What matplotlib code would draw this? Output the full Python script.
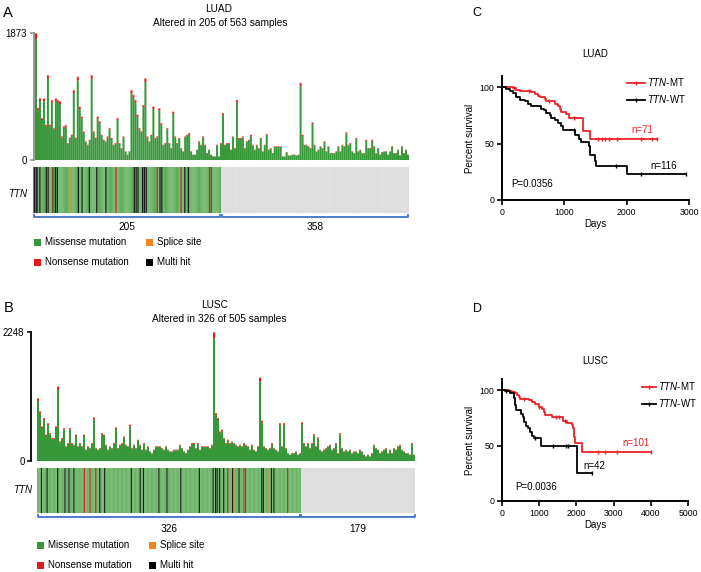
import matplotlib
matplotlib.use("Agg")
import matplotlib.pyplot as plt
from matplotlib.patches import Rectangle
from matplotlib.lines import Line2D
import numpy as np

plt.rcParams['font.family'] = ['Liberation Sans', 'DejaVu Sans']
plt.rcParams['mathtext.fontset'] = 'custom'
plt.rcParams['mathtext.it'] = 'Liberation Sans:italic'
plt.rcParams['mathtext.rm'] = 'Liberation Sans'

## mutation counts per sample group
luad_counts = [1873, 770, 915, 620, 912, 520, 1257, 520, 887, 470, 912, 887, 866, 350, 500, 517,
               250, 330, 374, 1035, 330, 1232, 789, 641, 420, 276, 226, 300, 1257, 423, 330, 641,
               571, 374, 300, 276, 349, 472, 325, 226, 250, 620, 251, 177, 349, 128, 80, 128,
               1035, 964, 887, 669, 472, 423, 813, 1208, 349, 276, 374, 789, 325, 350, 768, 546,
               226, 250, 472, 251, 177, 715, 349, 251, 325, 177, 128, 349, 374, 399, 128, 79,
               79, 153, 276, 226, 349, 226, 103, 153, 79, 54, 54, 226, 54, 251, 694, 226,
               251, 251, 153, 349, 177, 890, 325, 325, 349, 177, 276, 300, 374, 226, 153, 226,
               177, 325, 128, 226, 384, 153, 177, 103, 202, 202, 202, 202, 54, 54, 118, 69,
               69, 79, 79, 69, 79, 1140, 374, 226, 226, 202, 177, 556, 226, 128, 153, 202,
               177, 276, 128, 202, 103, 103, 103, 128, 202, 128, 226, 202, 410, 226, 251, 128,
               103, 325, 128, 153, 103, 103, 300, 177, 177, 300, 202, 103, 177, 79, 118, 128,
               128, 79, 128, 202, 103, 103, 153, 69, 202, 103, 153, 79]
lusc_counts = [1098, 866, 604, 750, 459, 662, 488, 401, 401, 604, 1301, 343, 401, 575, 256, 314,
               575, 314, 285, 459, 256, 314, 256, 459, 198, 256, 227, 314, 761, 227, 198, 227,
               488, 459, 285, 198, 256, 227, 314, 587, 227, 285, 314, 430, 285, 256, 633, 227,
               285, 227, 372, 285, 198, 314, 198, 256, 168, 139, 198, 256, 256, 256, 227, 198,
               256, 198, 168, 168, 198, 198, 198, 285, 227, 168, 139, 198, 256, 314, 314, 227,
               314, 198, 256, 256, 256, 256, 227, 285, 2248, 837, 750, 517, 546, 401, 314, 372,
               314, 343, 314, 285, 256, 285, 256, 314, 285, 256, 198, 285, 198, 168, 256, 1458,
               703, 256, 227, 198, 227, 314, 227, 198, 168, 662, 256, 662, 227, 139, 110, 139,
               139, 168, 110, 139, 674, 314, 256, 314, 227, 314, 471, 256, 412, 198, 168, 198,
               227, 256, 285, 198, 227, 314, 139, 488, 227, 168, 198, 168, 198, 139, 168, 168,
               139, 198, 168, 110, 81, 110, 81, 139, 285, 227, 198, 139, 168, 198, 227, 139,
               198, 139, 227, 198, 256, 285, 198, 168, 139, 139, 110, 314, 110]
luad_max = 1873
lusc_max = 2248
nonsense_share = 0.04
splice_share = 0.008

## oncoprint (TTN)
luad_altered, luad_unaltered = 205, 358
lusc_altered, lusc_unaltered = 326, 179
luad_multi = [1, 3, 4, 7, 14, 16, 21, 24, 26, 49, 53, 61, 69, 79, 110, 112, 114, 119, 121, 123,
              138, 140, 165, 169]
luad_nonsense = [90, 135, 161, 192, 194]
luad_splice = [20, 41]
lusc_multi = [5, 12, 25, 34, 39, 45, 77, 83, 116, 127, 131, 150, 160, 177, 200, 217, 220, 222,
              225, 230, 241, 249, 277, 279, 289, 292]
lusc_nonsense = [58, 65, 72, 235, 255, 257, 309]
lusc_splice = [244, 286]

## Kaplan-Meier curves (days, percent survival)
luad_mt_t = [0, 176, 230, 283, 470, 524, 578, 615, 685, 711, 845, 898, 925, 952, 1032, 1075,
             1300, 1406, 2490]
luad_mt_s = [100, 99, 98, 97, 95.6, 94, 92.6, 91, 89.7, 88.2, 85.3, 83.8, 81, 78, 76.5, 73,
             61, 54.4, 54.4]
luad_mt_cens = [190, 430, 760, 1150, 1540, 1600, 1650, 1720, 1850, 2230, 2400, 2490]
luad_wt_t = [0, 70, 123, 176, 230, 283, 364, 417, 470, 631, 668, 711, 765, 791, 845, 898, 952,
             979, 1166, 1235, 1273, 1390, 1417, 1487, 1513, 2005, 2950]
luad_wt_s = [100, 98.5, 97, 94.7, 91, 88.8, 87.4, 85.3, 83, 81, 79.4, 77, 75, 73, 70.6, 68,
             65.3, 62.4, 57.4, 54.4, 51.5, 47.6, 40, 35, 30.3, 22.9, 22.9]
luad_wt_cens = [1150, 1830, 2230, 2950]

lusc_mt_t = [0, 179, 268, 357, 402, 446, 491, 714, 804, 893, 982, 1072, 1134, 1161, 1357, 1634,
             1741, 1875, 1902, 1929, 1956, 2161, 4018]
lusc_mt_s = [100, 99, 98.5, 97, 95.5, 93.4, 92.2, 91, 89.2, 87.4, 85, 82.6, 80.5, 77.5, 75.4,
             72.4, 70.6, 68.5, 65.5, 58, 52, 43.8, 43.8]
lusc_mt_cens = [600, 1000, 1450, 1520, 1700, 2590, 2770, 3100, 4018]
lusc_wt_t = [0, 89, 205, 313, 339, 375, 518, 554, 598, 643, 688, 741, 804, 848, 1045, 2027, 2429]
lusc_wt_s = [100, 98.8, 97.6, 92.5, 86.5, 82, 78.4, 75.4, 71.5, 67.9, 65.5, 62.5, 58.6, 56.5,
             49.5, 24.9, 24.9]
lusc_wt_cens = [100, 900, 1380, 1720, 1770, 2429]

GREEN = '#37983a'
ONCO_GREEN = '#52a84e'
RED = '#e31a1c'
ORANGE = '#f58220'
KM_RED = '#ec2227'
BLUE = '#3f72c4'

W, H = 701, 572
fig = plt.figure(figsize=(W / 100, H / 100), dpi=100)


def fx(x):
    return x / W


def fy(y):
    return 1 - y / H


def box(l, t, r, b):
    return [fx(l), fy(b), (r - l) / W, (b - t) / H]


def bar_panel(rect, counts, ymax, spine_col, offset):
    ax = fig.add_axes(rect)
    counts = np.array(counts, dtype=float)
    x = np.arange(len(counts))
    spl = counts * splice_share
    non = counts * nonsense_share
    mis = counts - spl - non
    kw = dict(width=1.0, linewidth=0, snap=False)
    ax.bar(x, mis, color=GREEN, **kw)
    ax.bar(x, non, bottom=mis, color=RED, **kw)
    ax.bar(x, spl, bottom=mis + non, color=ORANGE, **kw)
    ax.set_xlim(-0.5, len(counts) - 0.5)
    ax.set_ylim(0, ymax)
    for s in ['top', 'right', 'bottom']:
        ax.spines[s].set_visible(False)
    ax.spines['left'].set_color(spine_col)
    ax.spines['left'].set_linewidth(1.3)
    ax.spines['left'].set_position(('outward', offset))
    ax.set_xticks([])
    ax.set_yticks([0, ymax])
    ax.tick_params(axis='y', length=3, width=1.1, color=spine_col, labelsize=7, pad=2)
    return ax


def oncoprint(rect_alt, rect_wt, n_alt, n_wt, multi, nonsense, splice, label_y):
    ax1 = fig.add_axes(rect_alt)
    ax1.bar(np.arange(n_alt), 1, width=1.0, color=ONCO_GREEN, linewidth=0, snap=False)
    # mutation-type stripes on top of the missense background
    for idx, col in [(multi, '#1a1a1a'), (nonsense, RED), (splice, ORANGE)]:
        ax1.bar(idx, 1, width=1.3, color=col, linewidth=0, snap=False)
    ax1.set_xlim(-0.5, n_alt - 0.5)
    ax2 = fig.add_axes(rect_wt)
    ax2.bar(np.arange(n_wt), 1, width=1.0, color='#d5d5d5', linewidth=0, snap=False)
    ax2.set_xlim(-0.5, n_wt - 0.5)
    for ax, n in [(ax1, n_alt), (ax2, n_wt)]:
        ax.set_ylim(0, 1)
        ax.axis('off')
        hpx = ax.get_position().height * H
        y0 = -4.0 / hpx
        y1 = -1.5 / hpx
        ax.plot([0.003, 0.003, 0.997, 0.997], [y1, y0, y0, y1], transform=ax.transAxes,
                color=BLUE, lw=1.3, clip_on=False, solid_joinstyle='round')
        ax.text(0.5, -label_y / hpx, str(n), transform=ax.transAxes, ha='center', va='center',
                fontsize=7.3)
    return ax1


def legend_block(x0, y0):
    items = [(GREEN, 'Missense mutation', 0, 0), (ORANGE, 'Splice site', 1, 0),
             (RED, 'Nonsense mutation', 0, 1), ('black', 'Multi hit', 1, 1)]
    for col, txt, c, r in items:
        x = x0 + c * 112
        y = y0 + r * 20
        fig.add_artist(Rectangle((fx(x), fy(y + 3.5)), 7 / W, 7 / H, transform=fig.transFigure,
                                 facecolor=col, edgecolor='none'))
        fig.text(fx(x + 11), fy(y), txt, fontsize=7, va='center', ha='left')


def km_panel(rect, xmax, xticks):
    ax = fig.add_axes(rect)
    ax.set_xlim(0, xmax)
    ax.set_ylim(0, 110)
    for s in ['top', 'right']:
        ax.spines[s].set_visible(False)
    for s in ['left', 'bottom']:
        ax.spines[s].set_linewidth(1.4)
    ax.set_xticks(xticks)
    ax.set_yticks([0, 50, 100])
    ax.tick_params(length=3.5, width=1.2, labelsize=6.3, pad=2)
    ax.set_xlabel('Days', fontsize=7, labelpad=2)
    ax.set_ylabel('Percent survival', fontsize=7, labelpad=3)
    return ax


def km_curve(ax, t, s, cens, color):
    ax.step(t, s, where='post', color=color, lw=1.3, clip_on=False)
    t = np.array(t)
    s = np.array(s)
    cy = s[np.searchsorted(t, cens, side='right') - 1]
    ax.plot(cens, cy, ls='none', marker='|', ms=3, mew=1.0, color=color, clip_on=False)


## ---- A: LUAD ----
fig.text(fx(3), fy(13), 'A', fontsize=10.5, va='center', ha='left')
fig.text(fx(219), fy(8.5), 'LUAD', fontsize=7.3, va='center', ha='center')
fig.text(fx(220), fy(23), 'Altered in 205 of 563 samples', fontsize=7.3, va='center', ha='center')
bar_panel(box(35, 33, 409, 160), luad_counts, luad_max, '#8e8e8e', 1)
oncoprint(box(33, 167, 221, 213), box(221, 167, 409, 213), luad_altered, luad_unaltered,
          luad_multi, luad_nonsense, luad_splice, 14)
fig.text(fx(27), fy(194), 'TTN', fontsize=7, style='italic', va='center', ha='right')
legend_block(34, 242)

## ---- B: LUSC ----
fig.text(fx(3.5), fy(308), 'B', fontsize=10.5, va='center', ha='left')
fig.text(fx(215), fy(305), 'LUSC', fontsize=7.3, va='center', ha='center')
fig.text(fx(219), fy(319), 'Altered in 326 of 505 samples', fontsize=7.3, va='center', ha='center')
bar_panel(box(37, 332, 415, 461), lusc_counts, lusc_max, 'black', 4)
oncoprint(box(37, 468, 301, 513), box(301, 468, 415, 513), lusc_altered, lusc_unaltered,
          lusc_multi, lusc_nonsense, lusc_splice, 15.5)
fig.text(fx(32), fy(490), 'TTN', fontsize=7, style='italic', va='center', ha='right')
legend_block(37, 545)

## ---- C: LUAD survival ----
fig.text(fx(477), fy(13), 'C', fontsize=9, va='center', ha='center')
axc = km_panel(box(502, 76, 689, 200), 3000, [0, 1000, 2000, 3000])
axc.set_title('LUAD', fontsize=7, pad=14)
km_curve(axc, luad_mt_t, luad_mt_s, luad_mt_cens, KM_RED)
km_curve(axc, luad_wt_t, luad_wt_s, luad_wt_cens, 'black')
axc.text(2070, 62, 'n=71', color=KM_RED, fontsize=7, va='center', ha='left')
axc.text(2375, 30, 'n=116', color='black', fontsize=7, va='center', ha='left')
axc.text(156, 14.2, 'P=0.0356', fontsize=7, va='center', ha='left')
hc = [Line2D([], [], color=KM_RED, lw=1.3, marker='|', ms=3),
      Line2D([], [], color='black', lw=1.3, marker='|', ms=3)]
axc.legend(hc, [r'$\it{TTN}$-MT', r'$\it{TTN}$-WT'], loc='upper left',
           bbox_to_anchor=(fx(627), fy(76)), bbox_transform=fig.transFigure, frameon=False,
           fontsize=7, handlelength=1.9, handletextpad=0.2, borderpad=0, borderaxespad=0,
           labelspacing=0.55)

## ---- D: LUSC survival ----
fig.text(fx(477), fy(309), 'D', fontsize=9, va='center', ha='center')
axd = km_panel(box(502, 379, 688, 501), 5000, [0, 1000, 2000, 3000, 4000, 5000])
axd.set_title('LUSC', fontsize=7, pad=11)
km_curve(axd, lusc_mt_t, lusc_mt_s, lusc_mt_cens, KM_RED)
km_curve(axd, lusc_wt_t, lusc_wt_s, lusc_wt_cens, 'black')
axd.text(3250, 52, 'n=101', color=KM_RED, fontsize=7, va='center', ha='left')
axd.text(2177, 31.5, 'n=42', color='black', fontsize=7, va='center', ha='left')
axd.text(368, 12.6, 'P=0.0036', fontsize=7, va='center', ha='left')
hd = [Line2D([], [], color=KM_RED, lw=1.3, marker='|', ms=3),
      Line2D([], [], color='black', lw=1.3, marker='|', ms=3)]
axd.legend(hd, [r'$\it{TTN}$-MT', r'$\it{TTN}$-WT'], loc='upper left',
           bbox_to_anchor=(fx(642), fy(380)), bbox_transform=fig.transFigure, frameon=False,
           fontsize=7, handlelength=1.45, handletextpad=0.2, borderpad=0, borderaxespad=0,
           labelspacing=0.55)

fig.savefig('out.png', dpi=100)
